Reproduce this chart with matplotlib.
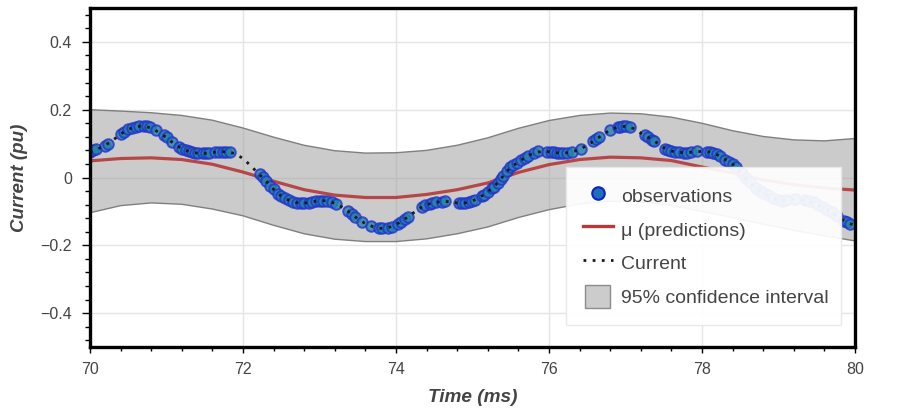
import numpy as np
import matplotlib
matplotlib.use("Agg")
import matplotlib.pyplot as plt
from matplotlib.lines import Line2D
from matplotlib.patches import Patch, Rectangle
from matplotlib.legend_handler import HandlerPatch
from matplotlib.ticker import MultipleLocator, FixedLocator, FixedFormatter

plt.rcParams['font.family'] = ['Liberation Sans', 'DejaVu Sans']

# ---------------- data ----------------
# GP prediction grid (ms)
pred_t = [70.0, 70.4, 70.8, 71.2, 71.6, 72.0, 72.4, 72.8, 73.2, 73.6, 74.0, 74.4, 74.8,
          75.2, 75.6, 76.0, 76.4, 76.8, 77.2, 77.6, 78.0, 78.4, 78.8, 79.2, 79.6, 80.0]
pred_mu = [0.049, 0.056, 0.058, 0.053, 0.039, 0.016, -0.011, -0.036, -0.052, -0.059, -0.059,
           -0.050, -0.036, -0.016, 0.015, 0.038, 0.053, 0.060, 0.058, 0.050, 0.031, 0.013,
           -0.007, -0.021, -0.031, -0.037]
ci_upper = [0.200, 0.196, 0.191, 0.183, 0.169, 0.146, 0.119, 0.095, 0.079, 0.072, 0.073,
            0.080, 0.095, 0.117, 0.145, 0.168, 0.183, 0.190, 0.188, 0.178, 0.160, 0.138,
            0.121, 0.111, 0.108, 0.115]
ci_lower = [-0.104, -0.083, -0.075, -0.079, -0.093, -0.113, -0.141, -0.166, -0.182, -0.189,
            -0.189, -0.181, -0.166, -0.146, -0.118, -0.095, -0.078, -0.070, -0.072, -0.082,
            -0.100, -0.118, -0.138, -0.156, -0.172, -0.187]

# measured current (ms, pu)
current_t = [70.0, 70.1, 70.2, 70.3, 70.4, 70.5, 70.6, 70.7, 70.8, 70.9,
             71.0, 71.1, 71.2, 71.3, 71.4, 71.5, 71.6, 71.7, 71.8, 71.9,
             72.0, 72.1, 72.2, 72.3, 72.4, 72.5, 72.6, 72.7, 72.8, 72.9,
             73.0, 73.1, 73.2, 73.3, 73.4, 73.5, 73.6, 73.7, 73.8, 73.9,
             74.0, 74.1, 74.2, 74.3, 74.4, 74.5, 74.6, 74.7, 74.8, 74.9,
             75.0, 75.1, 75.2, 75.3, 75.4, 75.5, 75.6, 75.7, 75.8, 75.9,
             76.0, 76.1, 76.2, 76.3, 76.4, 76.5, 76.6, 76.7, 76.8, 76.9,
             77.0, 77.1, 77.2, 77.3, 77.4, 77.5, 77.6, 77.7, 77.8, 77.9,
             78.0, 78.1, 78.2, 78.3, 78.4, 78.5, 78.6, 78.7, 78.8, 78.9,
             79.0, 79.1, 79.2, 79.3, 79.4, 79.5, 79.6, 79.7, 79.8, 79.9, 80.0]
current_v = [0.075, 0.084, 0.095, 0.110, 0.128, 0.142, 0.150, 0.152, 0.146, 0.133,
             0.118, 0.099, 0.085, 0.076, 0.072, 0.071, 0.074, 0.076, 0.076, 0.070,
             0.056, 0.035, 0.012, -0.010, -0.035, -0.055, -0.067, -0.074, -0.076, -0.072,
             -0.068, -0.069, -0.076, -0.088, -0.104, -0.122, -0.136, -0.145, -0.150, -0.148,
             -0.139, -0.125, -0.109, -0.092, -0.080, -0.074, -0.071, -0.071, -0.075, -0.075,
             -0.069, -0.058, -0.042, -0.022, 0.004, 0.031, 0.045, 0.061, 0.072, 0.077,
             0.076, 0.073, 0.072, 0.075, 0.083, 0.095, 0.110, 0.126, 0.140, 0.149,
             0.151, 0.145, 0.131, 0.118, 0.104, 0.088, 0.078, 0.074, 0.073, 0.076,
             0.077, 0.075, 0.067, 0.053, 0.040, 0.015, -0.010, -0.030, -0.045, -0.058,
             -0.067, -0.067, -0.064, -0.066, -0.070, -0.078, -0.090, -0.103, -0.120, -0.133, -0.142]

# observations (ms, pu)
obs_t = [70.00, 70.04, 70.08, 70.19, 70.23, 70.41, 70.45, 70.50, 70.55, 70.60, 70.64, 70.70,
         70.74, 70.78, 70.86, 70.97, 71.00, 71.07, 71.16, 71.20, 71.25, 71.29, 71.33, 71.37,
         71.41, 71.48, 71.52, 71.56, 71.63, 71.68, 71.74, 71.78, 71.83,
         72.22, 72.26, 72.30, 72.35, 72.40, 72.46, 72.50, 72.55, 72.60, 72.65, 72.70, 72.76,
         72.80, 72.86, 72.90, 72.95, 73.00, 73.05, 73.10, 73.16, 73.21, 73.37, 73.42, 73.47,
         73.56, 73.67, 73.78, 73.82, 73.90, 73.95, 74.02, 74.07, 74.12, 74.16,
         74.34, 74.38, 74.44, 74.47, 74.52, 74.60, 74.64, 74.82, 74.86, 74.90, 74.95, 74.99,
         75.03, 75.12, 75.15, 75.20, 75.25, 75.28, 75.33, 75.37, 75.40, 75.45, 75.49, 75.53,
         75.58, 75.63, 75.68, 75.72, 75.80, 75.86, 75.98, 76.02, 76.06, 76.10, 76.14, 76.18,
         76.23, 76.30, 76.42, 76.58, 76.62, 76.66, 76.80, 76.90, 76.93, 76.97, 77.01, 77.06,
         77.26, 77.30, 77.34, 77.37, 77.52, 77.56, 77.60, 77.65, 77.70, 77.76, 77.80, 77.86,
         77.93, 78.06, 78.10, 78.14, 78.19, 78.24, 78.30, 78.35, 78.41, 78.45,
         78.52, 78.58, 78.63, 78.70, 78.76, 78.80, 78.86, 78.93, 79.00, 79.04, 79.10, 79.22,
         79.34, 79.40, 79.46, 79.52, 79.58, 79.64, 79.70, 79.76, 79.85, 79.89, 79.94]
obs_v = [0.075, 0.080, 0.083, 0.094, 0.099, 0.128, 0.134, 0.142, 0.147, 0.150, 0.151, 0.152,
         0.151, 0.148, 0.140, 0.124, 0.118, 0.104, 0.090, 0.085, 0.080, 0.077, 0.074, 0.072,
         0.072, 0.071, 0.072, 0.073, 0.075, 0.076, 0.076, 0.076, 0.075,
         0.009, 0.001, -0.010, -0.024, -0.035, -0.048, -0.055, -0.061, -0.067, -0.071, -0.074, -0.076,
         -0.076, -0.074, -0.072, -0.070, -0.068, -0.068, -0.069, -0.072, -0.077, -0.098, -0.107, -0.116,
         -0.131, -0.143, -0.150, -0.150, -0.148, -0.145, -0.136, -0.130, -0.122, -0.116,
         -0.086, -0.082, -0.077, -0.075, -0.073, -0.071, -0.070, -0.075, -0.076, -0.075, -0.073, -0.070,
         -0.066, -0.055, -0.051, -0.042, -0.032, -0.027, -0.016, -0.004, 0.004, 0.018, 0.031, 0.037,
         0.044, 0.051, 0.058, 0.063, 0.072, 0.077, 0.076, 0.075, 0.074, 0.073, 0.072, 0.072,
         0.073, 0.075, 0.084, 0.107, 0.113, 0.120, 0.140, 0.149, 0.150, 0.151, 0.151, 0.149,
         0.124, 0.118, 0.112, 0.108, 0.085, 0.081, 0.078, 0.075, 0.074, 0.073, 0.073, 0.075,
         0.077, 0.076, 0.075, 0.072, 0.068, 0.062, 0.053, 0.046, 0.039, 0.032,
         0.012, -0.002, -0.014, -0.030, -0.040, -0.045, -0.053, -0.061, -0.067, -0.068, -0.067, -0.064,
         -0.067, -0.070, -0.073, -0.080, -0.088, -0.095, -0.103, -0.113, -0.127, -0.132, -0.137]

x_ticks = [70, 72, 74, 76, 78, 80]
x_tick_labels = ['70', '72', '74', '76', '78', '80']
y_ticks = [-0.4, -0.2, 0.0, 0.2, 0.4]
y_tick_labels = ['\u22120.4', '\u22120.2', '0', '0.2', '0.4']

legend_labels = ['observations', '\u03bc (predictions)', 'Current', '95% confidence interval']

# ---------------- plot ----------------
fig = plt.figure(figsize=(9.0, 4.12), dpi=100)
ax = fig.add_axes([90 / 900, 1 - 347 / 412, 765 / 900, 339 / 412])

ax.fill_between(pred_t, ci_lower, ci_upper, facecolor='#999999', alpha=0.5,
                edgecolor='none', zorder=2)
ax.plot(pred_t, ci_upper, color='#7f7f7f', lw=1.0, zorder=2.1)
ax.plot(pred_t, ci_lower, color='#7f7f7f', lw=1.0, zorder=2.1)
ax.plot(pred_t, pred_mu, color='#b22222', lw=2.3, alpha=0.78, zorder=3,
        solid_capstyle='butt')
ax.plot(obs_t, obs_v, linestyle='none', marker='o', ms=7.6, mfc='#2483ab',
        mec='#2232cc', mew=1.4, alpha=0.8, zorder=4)
ax.plot(current_t, current_v, color='#1a1a1a', lw=2.0, linestyle=(0, (1.0, 2.3)),
        dash_capstyle='butt', zorder=5)

ax.set_xlim(70, 80)
ax.set_ylim(-0.5, 0.5)

ax.xaxis.set_major_locator(FixedLocator(x_ticks))
ax.xaxis.set_major_formatter(FixedFormatter(x_tick_labels))
ax.yaxis.set_major_locator(FixedLocator(y_ticks))
ax.yaxis.set_major_formatter(FixedFormatter(y_tick_labels))
ax.xaxis.set_minor_locator(MultipleLocator(0.4))
ax.yaxis.set_minor_locator(MultipleLocator(0.04))

ax.grid(True, which='major', color='#e5e5e5', lw=1.0, zorder=0)
ax.set_axisbelow(True)

for sp in ax.spines.values():
    sp.set_linewidth(2.4)
    sp.set_color('black')
    sp.set_zorder(10)

ax.tick_params(axis='y', which='major', direction='out', length=6, width=1.0, color='black',
               labelsize=11.5, labelcolor='#444444', pad=7)
ax.tick_params(axis='y', which='minor', direction='out', length=3.6, width=1.0, color='black')
ax.tick_params(axis='x', which='major', direction='out', length=4.5, width=1.0, color='black',
               labelsize=11.5, labelcolor='#444444', pad=6)
ax.tick_params(axis='x', which='minor', direction='out', length=3, width=1.0, color='black')

ax.set_xlabel('Time (ms)', fontsize=13.7, fontweight='bold', fontstyle='italic',
              color='#444444')
ax.set_ylabel('Current (pu)', fontsize=13.5, fontweight='bold', fontstyle='italic',
              color='#444444')
ax.xaxis.set_label_coords(0.5, -0.125)
ax.yaxis.set_label_coords(-0.081, 0.5)


def small_box(legend, orig_handle, xdescent, ydescent, width, height, fontsize):
    w, h = 18.0, 16.5
    return Rectangle((-xdescent + (width - w) / 2, -ydescent + (height - h) / 2), w, h)


handles = [
    Line2D([], [], linestyle='none', marker='o', ms=9, mfc='#1f6fb8', mec='#0b22c4', mew=1.5),
    Line2D([], [], color='#b22222', lw=2.4, alpha=0.9),
    Line2D([], [], color='#1a1a1a', lw=2.0, linestyle=(0, (1.0, 2.3))),
    Patch(facecolor='#cccccc', edgecolor='#8c8c8c', lw=1.0),
]
leg = ax.legend(handles, legend_labels, loc='upper left',
                bbox_to_anchor=(476 / 765, 180 / 339, 275 / 765, 0.0), mode='expand',
                borderaxespad=0.0, fontsize=14, frameon=True, fancybox=False,
                framealpha=0.93, facecolor='white', edgecolor='#e8e8e8',
                handlelength=1.55, handleheight=1.5, handletextpad=0.42,
                labelspacing=0.52, borderpad=0.85, labelcolor='#444444',
                handler_map={Patch: HandlerPatch(patch_func=small_box)})
leg.get_frame().set_linewidth(1.0)
leg.set_zorder(20)

fig.savefig('out.png', dpi=100)
